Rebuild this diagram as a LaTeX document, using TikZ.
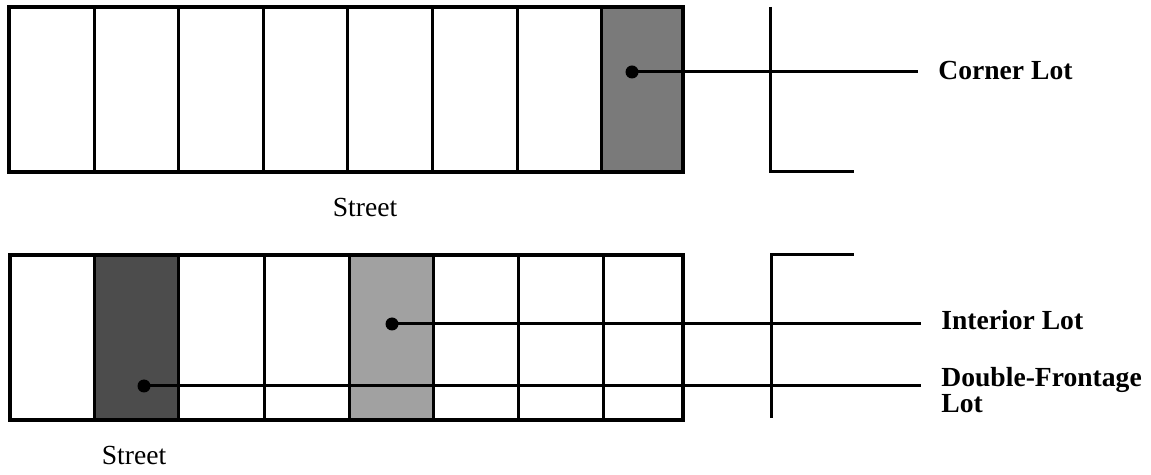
\documentclass[tikz,border=0pt]{standalone}
\usepackage{fontspec}
\setmainfont{Liberation Serif}
\begin{document}
\begin{tikzpicture}[x=0.5pt,y=-0.5pt,
  lotline/.style={line width=1.5pt},
  outline/.style={line width=1.8pt},
  leader/.style={line width=1.5pt, shorten >=10pt},
  dotmark/.style={ellipse, fill=black, inner sep=0pt, minimum width=6pt, minimum height=7pt},
  lbl/.style={font=\fontsize{13.8}{13}\selectfont\bfseries, inner sep=0pt, align=left},
  streetlbl/.style={font=\fontsize{13.8}{13}\selectfont, inner sep=0pt},
  streetline/.style={line width=1.5pt}]
\useasboundingbox[fill=white] (0,0) rectangle (1151,475);
% top block
\fill[black!52] (601,7) rectangle (683,172);
\foreach \x in {94,178,263,347,432,517,601}
  \draw[lotline] (\x,7) -- (\x,172);
\draw[outline] (9,7) rectangle (683,172);
% bottom block
\fill[black!70] (94,255) rectangle (178,420);
\fill[black!37] (349,255) rectangle (433,420);
\foreach \x in {94,178,264,349,433,518,603}
  \draw[lotline] (\x,255) -- (\x,420);
\draw[outline] (10,255) rectangle (683,420);
% street edges on right
\draw[streetline] (770,7) -- (770,172) -- (854,172);
\draw[streetline] (771,418) -- (771,255) -- (854,255);
% street labels
\node[streetlbl, anchor=base] (st1) at (365,217) {Street};
\node[streetlbl, anchor=base] (st2) at (134,465) {Street};
% dots
\node[circle, fill=black, inner sep=0pt, minimum size=6.5pt] (cdot) at (632,72) {};
\node[circle, fill=black, inner sep=0pt, minimum size=6.5pt] (idot) at (392,324) {};
\node[circle, fill=black, inner sep=0pt, minimum size=6.5pt] (ddot) at (144,386) {};
% labels
\node[lbl, anchor=base west] (corner) at (938,80) {Corner Lot};
\node[lbl, anchor=base west] (interior) at (941,330) {Interior Lot};
\node[lbl, anchor=north west] (double) at (941,367) {Double-Frontage\\Lot};
% leaders
\draw[leader] (cdot.center) -- (cdot.center -| corner.west);
\draw[leader] (idot.center) -- (idot.center -| interior.west);
\draw[leader] (ddot.center) -- (ddot.center -| double.west);
\end{tikzpicture}
\end{document}
